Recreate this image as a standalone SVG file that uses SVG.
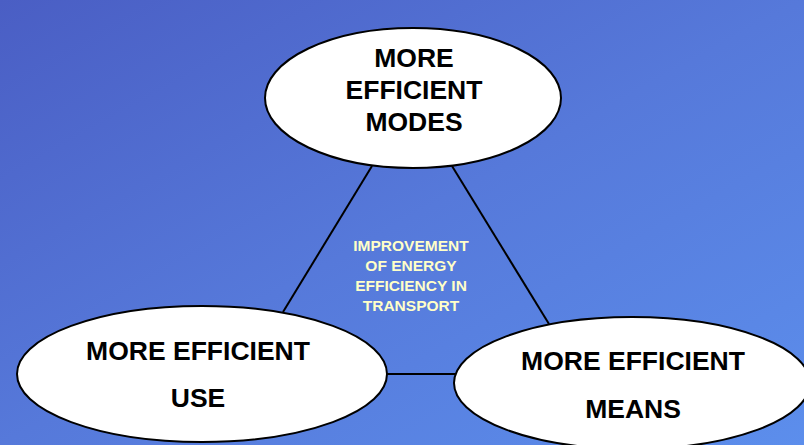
<svg xmlns="http://www.w3.org/2000/svg" width="804" height="445" viewBox="0 0 804 445">
<defs>
<linearGradient id="bg" x1="0" y1="0" x2="1" y2="1">
<stop offset="0" stop-color="#4A5EC4"/>
<stop offset="0.5" stop-color="#5679DA"/>
<stop offset="1" stop-color="#5C8EEC"/>
</linearGradient>
<style>
.node{fill:#ffffff;stroke:#000000;stroke-width:2}
.lbl{font-family:"Liberation Sans",Arial,sans-serif;font-weight:bold;font-size:26.5px;fill:#000000;text-anchor:middle}
.ctr{font-family:"Liberation Sans",Arial,sans-serif;font-weight:bold;font-size:15.5px;fill:#FFFFC8;text-anchor:middle}
.edge{stroke:#000000;stroke-width:2;fill:none}
</style>
</defs>
<rect x="0" y="0" width="804" height="445" fill="url(#bg)"/>
<g id="connectors">
<line class="edge" x1="372" y1="166" x2="283" y2="312"/>
<line class="edge" x1="452" y1="166" x2="549" y2="324"/>
<line class="edge" x1="386" y1="374" x2="456" y2="374"/>
</g>
<g id="center">
<text class="ctr" x="411" y="251">IMPROVEMENT</text>
<text class="ctr" x="411" y="271">OF ENERGY</text>
<text class="ctr" x="411" y="291">EFFICIENCY IN</text>
<text class="ctr" x="411" y="311">TRANSPORT</text>
</g>
<g id="modes">
<ellipse class="node" cx="413" cy="98" rx="148" ry="70"/>
<text class="lbl" x="414" y="67">MORE</text>
<text class="lbl" x="414" y="99">EFFICIENT</text>
<text class="lbl" x="414" y="131">MODES</text>
</g>
<g id="use">
<ellipse class="node" cx="202" cy="374" rx="185" ry="68"/>
<text class="lbl" x="198" y="360">MORE EFFICIENT</text>
<text class="lbl" x="198" y="407">USE</text>
</g>
<g id="means">
<ellipse class="node" cx="632" cy="383" rx="178" ry="66"/>
<text class="lbl" x="633" y="370">MORE EFFICIENT</text>
<text class="lbl" x="633" y="418">MEANS</text>
</g>
</svg>
